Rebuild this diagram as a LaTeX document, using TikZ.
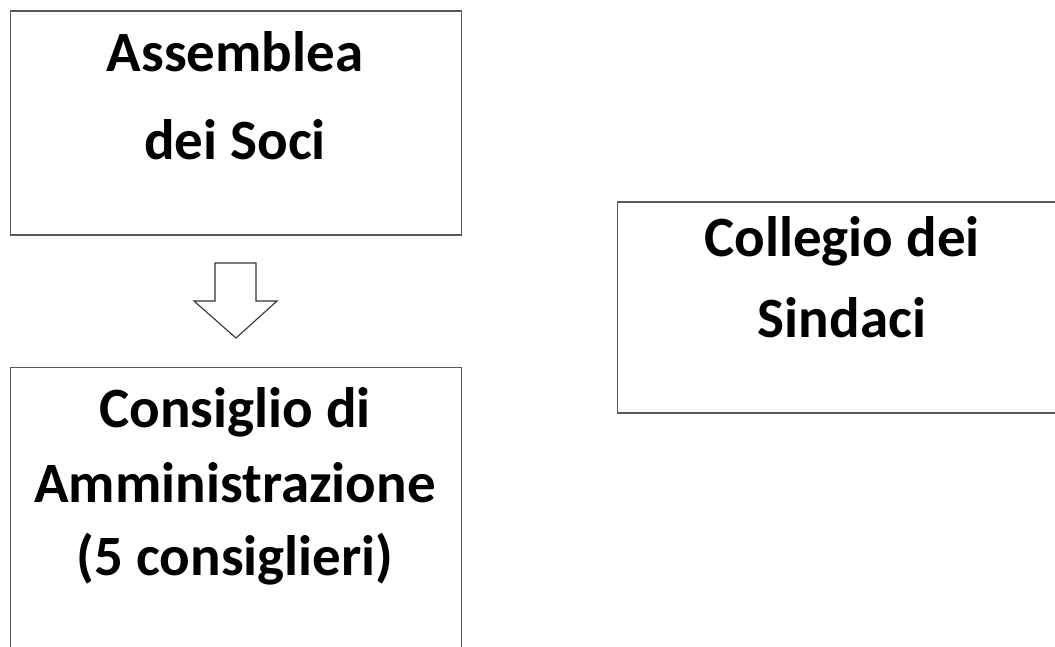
\documentclass[tikz,border=0pt]{standalone}
\usepackage{fontspec}
\setmainfont{Carlito}
\begin{document}
\begin{tikzpicture}[x=1pt,y=-1pt,
  boxstyle/.style={draw=black!65, line width=1.5pt, fill=white, inner sep=0pt, outer sep=0pt},
  txt/.style={font=\fontsize{57}{60}\selectfont\bfseries, anchor=base, inner sep=0pt}]
\path[clip] (0,0) rectangle (1055,647);
\fill[white] (0,0) rectangle (1055,647);
% boxes
\node[boxstyle, minimum width=451pt, minimum height=224pt, anchor=north west] (assemblea) at (10.5,11) {};
\node[boxstyle, minimum width=451pt, minimum height=300pt, anchor=north west] (consiglio) at (10.5,367.5) {};
\node[boxstyle, minimum width=450pt, minimum height=211pt, anchor=north west] (collegio) at (617.5,202) {};
% texts
\node[txt] (a1) at (235,72) {Assemblea};
\node[txt] (a2) at (235,160) {dei Soci};
\node[txt] (c1) at (235,427) {Consiglio di};
\node[txt] (c2) at (235,502) {Amministrazione};
\node[txt] (c3) at (235,575) {(5 consiglieri)};
\node[txt] (s1) at (842,257) {Collegio dei};
\node[txt] (s2) at (842,337) {Sindaci};
% block arrow
\draw[draw=black!80, line width=1.1pt, fill=white, line join=miter]
  (215,263) -- (256,263) -- (256,301) -- (277,301) -- (236,338) -- (194,301) -- (215,301) -- cycle;
\end{tikzpicture}
\end{document}
